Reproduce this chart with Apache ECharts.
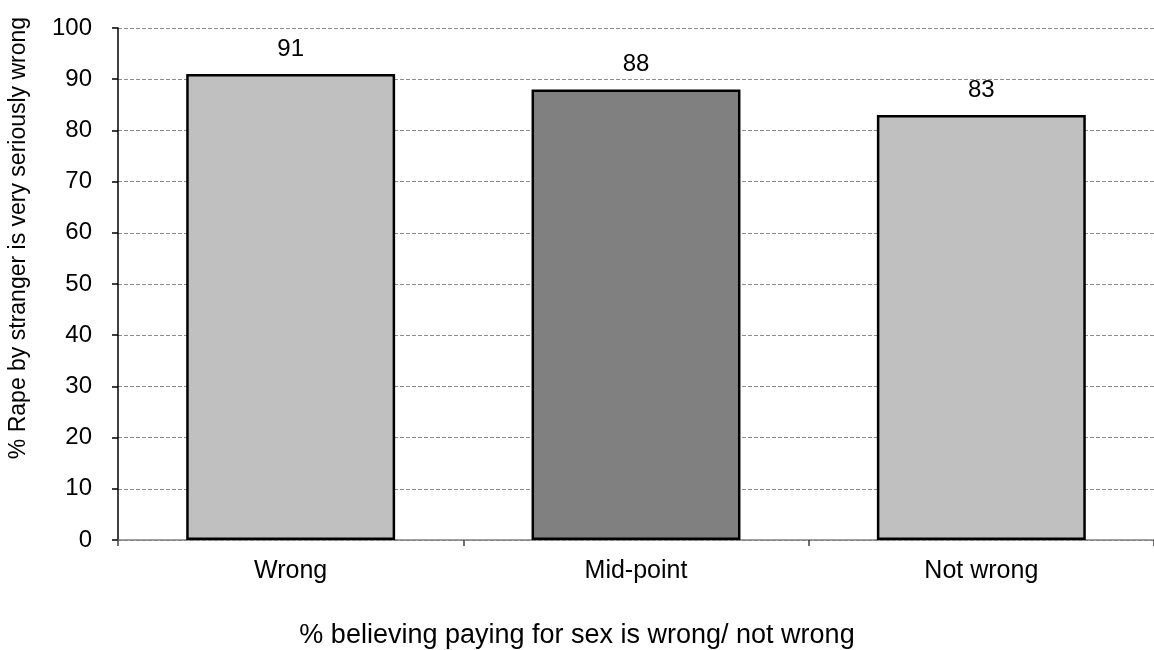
<!DOCTYPE html>
<html>
<head>
<meta charset="utf-8">
<script src="https://cdn.jsdelivr.net/npm/echarts@6/dist/echarts.min.js"></script>
<style>
  html, body { margin: 0; padding: 0; background: #ffffff; }
  #chart { width: 1154px; height: 650px; }
</style>
</head>
<body>
<div id="chart"></div>
<script>
// Categories and values
const categories = ['Wrong', 'Mid-point', 'Not wrong'];
const values = [91, 88, 83];
const barColors = ['#c0c0c0', '#808080', '#c0c0c0'];
const yTicks = { min: 0, max: 100, interval: 10 };
const yTitle = '% Rape by stranger is very seriously wrong';
const xTitle = '% believing paying for sex is wrong/ not wrong';

const FONT = '"Liberation Sans", Arial, sans-serif';

const chart = echarts.init(document.getElementById('chart'), null, { renderer: 'canvas' });

chart.setOption({
  animation: false,
  backgroundColor: '#ffffff',
  textStyle: { fontFamily: FONT },
  grid: { left: 118, top: 28, width: 1044, height: 512, containLabel: false },
  graphic: [{
    type: 'text',
    x: 19,
    y: 238,
    rotation: Math.PI / 2,
    style: {
      text: yTitle,
      fontFamily: FONT,
      fontSize: 23,
      fill: '#000000',
      align: 'center',
      verticalAlign: 'middle'
    }
  }, {
    type: 'text',
    x: 577,
    y: 636,
    style: {
      text: xTitle,
      fontFamily: FONT,
      fontSize: 27,
      fill: '#000000',
      align: 'center',
      verticalAlign: 'middle'
    }
  }],
  xAxis: {
    type: 'category',
    data: categories,
    axisLine: { show: true, lineStyle: { color: '#808080', width: 1.5 } },
    axisTick: { show: true, alignWithLabel: false, length: 6, lineStyle: { color: '#404040', width: 1.5 } },
    axisLabel: { color: '#000000', fontSize: 25, fontFamily: FONT, margin: 19 },
    splitLine: { show: false }
  },
  yAxis: {
    type: 'value',
    min: yTicks.min,
    max: yTicks.max,
    interval: yTicks.interval,
    axisLine: { show: true, lineStyle: { color: '#000000', width: 1.5 } },
    axisTick: { show: true, length: 6, lineStyle: { color: '#000000', width: 1.5 } },
    axisLabel: { color: '#000000', fontSize: 24, fontFamily: FONT, margin: 26 },
    splitLine: { show: true, lineStyle: { color: '#8c8c8c', type: [4, 2], width: 1 } }
  },
  series: [{
    type: 'bar',
    data: values.map((v, i) => ({ value: v, itemStyle: { color: barColors[i] } })),
    barWidth: '60.5%',
    itemStyle: { borderColor: '#000000', borderWidth: 2.5 },
    label: {
      show: true,
      position: 'top',
      distance: 13,
      color: '#000000',
      fontSize: 24,
      fontFamily: FONT
    }
  }]
});
</script>
</body>
</html>
